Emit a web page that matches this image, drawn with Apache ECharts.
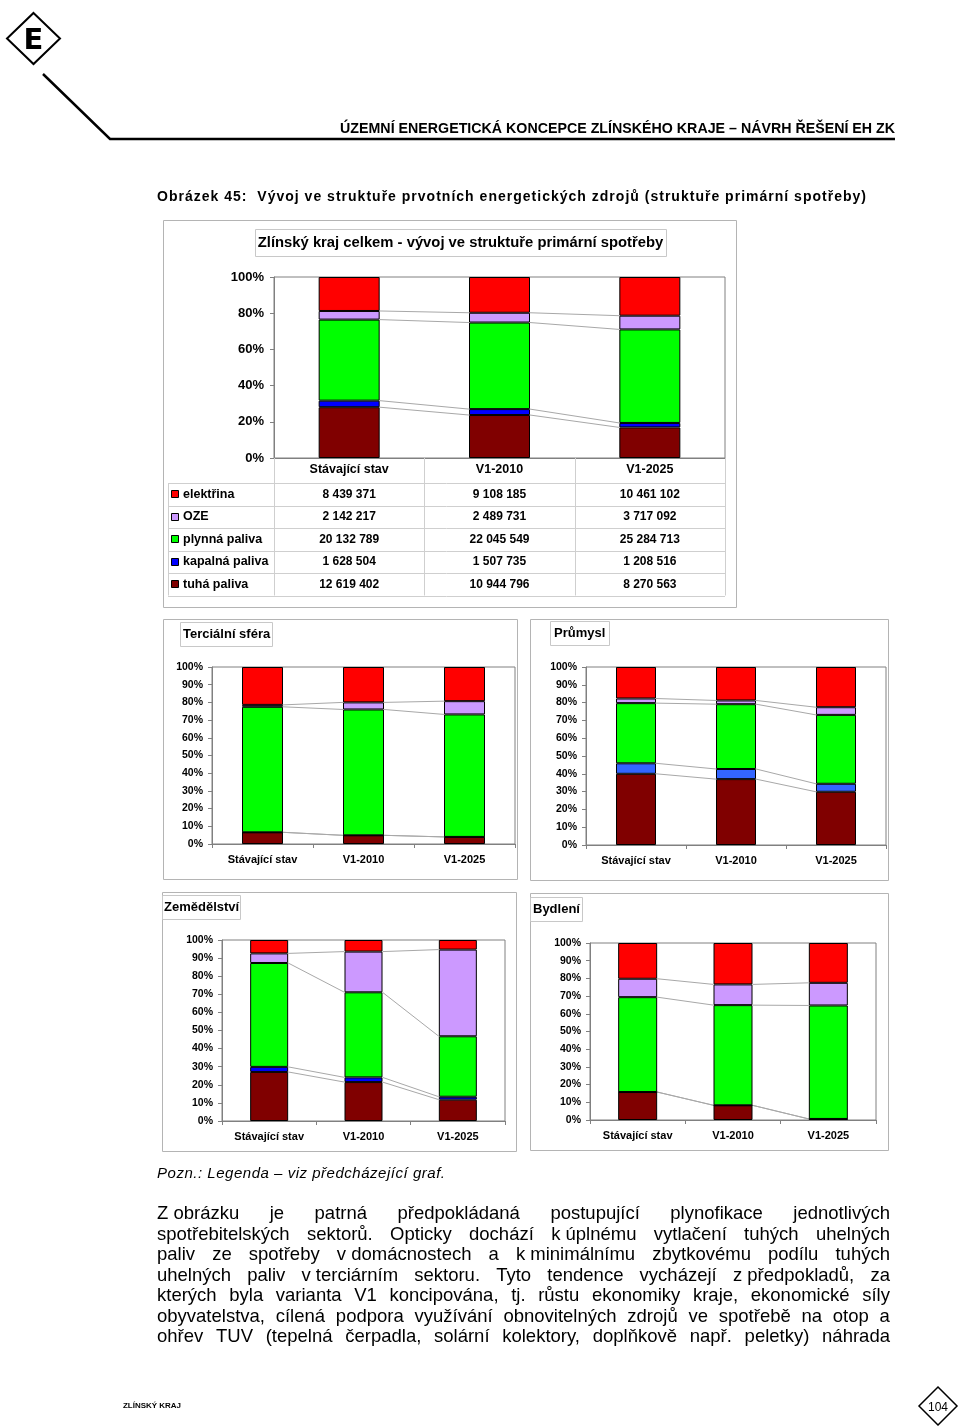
<!DOCTYPE html>
<html><head><meta charset="utf-8">
<script src="https://cdn.jsdelivr.net/npm/echarts@6/dist/echarts.min.js"></script>
<style>
html,body{margin:0;padding:0;background:#fff;}
#page{position:relative;width:960px;height:1426px;overflow:hidden;background:#fff;font-family:"Liberation Sans",Arial,sans-serif;color:#000;}
#chart{position:absolute;left:0;top:0;width:960px;height:1426px;}
.t{position:absolute;white-space:nowrap;color:#000;}
.pl{position:absolute;left:157px;width:733px;height:20px;line-height:20px;display:flex;justify-content:space-between;white-space:nowrap;}
</style></head><body>
<div id="page">
<div id="chart"></div>
<svg width="960" height="1426" style="position:absolute;left:0;top:0;pointer-events:none">
 <polygon points="33.5,13 60,38.5 33.5,64 7,38.5" fill="#fff" stroke="#000" stroke-width="2"/>
 <text x="33.5" y="49" text-anchor="middle" font-family="DejaVu Sans" font-weight="bold" font-size="29">E</text>
 <polyline points="43,74 110,139 895,139" fill="none" stroke="#000" stroke-width="2.5"/>
 <polygon points="938,1387 957,1406 938,1425 919,1406" fill="#fff" stroke="#000" stroke-width="1.5"/>
 <text x="938" y="1411" text-anchor="middle" font-size="12" font-family="Liberation Sans Narrow, Liberation Sans">104</text>
</svg>
<span id="hdr" class="t" style="top:119px;font-family:'Liberation Sans Narrow','Liberation Sans',sans-serif;font-weight:bold;font-size:15px;line-height:18px;">ÚZEMNÍ ENERGETICKÁ KONCEPCE ZLÍNSKÉHO KRAJE – NÁVRH ŘEŠENÍ EH ZK</span>
<span id="cap" class="t" style="left:157px;top:187px;font-weight:bold;font-size:14px;line-height:18px;">Obrázek 45:&nbsp; Vývoj ve struktuře prvotních energetických zdrojů (struktuře primární spotřeby)</span>
<span id="pozn" class="t" style="left:157px;top:1164px;font-style:italic;font-size:15px;line-height:18px;">Pozn.: Legenda – viz předcházející graf.</span>
<div id="para"></div>
<span id="foot" class="t" style="left:123px;top:1401px;font-family:'Liberation Sans Narrow','Liberation Sans',sans-serif;font-weight:bold;font-size:8px;line-height:10px;">ZLÍNSKÝ KRAJ</span>
</div>
<script>
// ---------- DATA ----------
const categories = ['Stávající stav', 'V1-2010', 'V1-2025'];
const tableRowNames = ['elektřina', 'OZE', 'plynná paliva', 'kapalná paliva', 'tuhá paliva'];
// Zlínský kraj celkem (absolute values from table)
const celkemElektrina = [8439371, 9108185, 10461102];
const celkemOZE = [2142217, 2489731, 3717092];
const celkemPlynna = [20132789, 22045549, 25284713];
const celkemKapalna = [1628504, 1507735, 1208516];
const celkemTuha = [12619402, 10944796, 8270563];
// Terciální sféra (shares, %)
const tercTuha = [6.6, 4.9, 4.0];
const tercKapalna = [0, 0, 0];
const tercPlynna = [70.9, 71.1, 69.2];
const tercOZE = [1.1, 4.0, 7.5];
const tercElektrina = [21.4, 20.0, 19.3];
// Průmysl (shares, %)
const prumTuha = [40.0, 37.0, 29.9];
const prumKapalna = [5.9, 5.7, 4.5];
const prumPlynna = [33.8, 36.4, 38.7];
const prumOZE = [2.6, 2.1, 4.3];
const prumElektrina = [17.7, 18.8, 22.6];
// Zemědělství (shares, %)
const zemTuha = [27.1, 21.5, 11.8];
const zemKapalna = [2.8, 2.6, 1.6];
const zemPlynna = [57.4, 47.0, 33.4];
const zemOZE = [5.3, 22.5, 47.9];
const zemElektrina = [7.4, 6.4, 5.3];
// Bydlení (shares, %)
const bydTuha = [15.8, 8.3, 0.6];
const bydKapalna = [0, 0, 0];
const bydPlynna = [53.6, 56.6, 64.1];
const bydOZE = [10.4, 11.7, 12.8];
const bydElektrina = [20.2, 23.4, 22.5];

const paraLines = [
 "Z\u00A0obrázku je patrná předpokládaná postupující plynofikace jednotlivých",
 "spotřebitelských sektorů. Opticky dochází k\u00A0úplnému vytlačení tuhých uhelných",
 "paliv ze spotřeby v\u00A0domácnostech a k\u00A0minimálnímu zbytkovému podílu tuhých",
 "uhelných paliv v\u00A0terciárním sektoru. Tyto tendence vycházejí z\u00A0předpokladů, za",
 "kterých byla varianta V1 koncipována, tj. růstu ekonomiky kraje, ekonomické síly",
 "obyvatelstva, cílená podpora využívání obnovitelných zdrojů ve spotřebě na otop a",
 "ohřev TUV (tepelná čerpadla, solární kolektory, doplňkově např. peletky) náhrada"
];

// ---------- derived ----------
const totals = categories.map((_, i) => celkemElektrina[i] + celkemOZE[i] + celkemPlynna[i] + celkemKapalna[i] + celkemTuha[i]);
const pct = a => a.map((v, i) => v / totals[i] * 100);
const seriesNames = ['tuhá paliva', 'kapalná paliva', 'plynná paliva', 'OZE', 'elektřina'];
const baseColors = ['#800000', '#0000FF', '#00FF00', '#CC99FF', '#FF0000'];

const charts = [
 {segs: [pct(celkemTuha), pct(celkemKapalna), pct(celkemPlynna), pct(celkemOZE), pct(celkemElektrina)], blue: '#0000FF', barW: 61,
  grid: {left: 274, top: 277, width: 451, height: 181}, interval: 20, main: true},
 {segs: [tercTuha, tercKapalna, tercPlynna, tercOZE, tercElektrina], blue: '#0000FF', barW: 41,
  grid: {left: 212, top: 667, width: 303, height: 177}, interval: 10},
 {segs: [prumTuha, prumKapalna, prumPlynna, prumOZE, prumElektrina], blue: '#3366FF', barW: 40,
  grid: {left: 586, top: 667, width: 300, height: 178}, interval: 10},
 {segs: [zemTuha, zemKapalna, zemPlynna, zemOZE, zemElektrina], blue: '#0000FF', barW: 38,
  grid: {left: 222, top: 940, width: 283, height: 181}, interval: 10},
 {segs: [bydTuha, bydKapalna, bydPlynna, bydOZE, bydElektrina], blue: '#0000FF', barW: 39,
  grid: {left: 590, top: 943, width: 286, height: 177}, interval: 10}
];

const grids = [], xAxes = [], yAxes = [], series = [];
charts.forEach((c, gi) => {
  grids.push(Object.assign({show: true, borderColor: '#808080', borderWidth: 1, backgroundColor: '#fff', containLabel: false}, c.grid));
  xAxes.push({type: 'category', gridIndex: gi, data: categories,
    axisLine: {lineStyle: {color: '#808080'}},
    axisTick: {show: !c.main, length: 4, alignWithLabel: false, lineStyle: {color: '#808080'}},
    axisLabel: {color: '#000', fontWeight: 'bold', fontSize: c.main ? 12.5 : 11, margin: c.main ? 5 : 10, interval: 0, fontFamily: 'Liberation Sans'}
  });
  yAxes.push({type: 'value', gridIndex: gi, min: 0, max: 100, interval: c.interval,
    axisLine: {show: true, lineStyle: {color: '#808080'}},
    axisTick: {show: true, length: 4, lineStyle: {color: '#808080'}},
    splitLine: {show: false},
    axisLabel: {color: '#000', fontWeight: 'bold', fontSize: c.main ? 13 : 10.5, margin: c.main ? 10 : 9, formatter: '{value}%', fontFamily: 'Liberation Sans'}
  });
  c.segs.forEach((s, k) => {
    series.push({type: 'bar', name: seriesNames[k], xAxisIndex: gi, yAxisIndex: gi, stack: 'g' + gi,
      barWidth: c.barW, data: s, silent: true, z: 3,
      itemStyle: {color: k === 1 ? c.blue : baseColors[k], borderColor: '#000', borderWidth: 1}});
  });
  // series lines (connectors)
  const tops = []; let run = categories.map(() => 0);
  c.segs.forEach(s => { run = run.map((v, i) => v + s[i]); tops.push(run.slice()); });
  const cdata = [];
  for (let i = 0; i < categories.length - 1; i++) for (let k = 0; k < c.segs.length - 1; k++) cdata.push([i, k]);
  const hw = c.barW / 2;
  series.push({type: 'custom', xAxisIndex: gi, yAxisIndex: gi, silent: true, z: 2, data: cdata,
    encode: {x: 0, y: 1},
    renderItem: (params, api) => {
      const i = api.value(0), k = api.value(1);
      const p1 = api.coord([i, tops[k][i]]), p2 = api.coord([i + 1, tops[k][i + 1]]);
      return {type: 'line', shape: {x1: p1[0] + hw, y1: p1[1], x2: p2[0] - hw, y2: p2[1]},
        style: {stroke: '#a8a8a8', lineWidth: 1}};
    }});
});

const chart = echarts.init(document.getElementById('chart'));
chart.setOption({animation: false, backgroundColor: '#fff', grid: grids, xAxis: xAxes, yAxis: yAxes, series: series});

// ---------- graphics: boxes, titles, data table ----------
const G = [];
const box = (x, y, w, h, col) => G.push({type: 'rect', z: 0, shape: {x: x + 0.5, y: y + 0.5, width: w, height: h}, style: {fill: 'none', stroke: col, lineWidth: 1}, silent: true});
const txt = (x, y, s, opt) => G.push({type: 'text', z: 10, x: x, y: y, silent: true,
  style: Object.assign({text: s, fill: '#000', font: 'bold 13px "Liberation Sans"', textAlign: 'left', textVerticalAlign: 'middle'}, opt || {})});
const hline = (x1, x2, y, col) => G.push({type: 'line', z: 1, silent: true, shape: {x1: x1, y1: y + 0.5, x2: x2, y2: y + 0.5}, style: {stroke: col, lineWidth: 1}});
const vline = (x, y1, y2, col) => G.push({type: 'line', z: 1, silent: true, shape: {x1: x + 0.5, y1: y1, x2: x + 0.5, y2: y2}, style: {stroke: col, lineWidth: 1}});

// outer boxes
box(163, 220, 573, 387, '#b4b4b4');
box(163, 619, 354, 260, '#b4b4b4');
box(530, 619, 358, 261, '#b4b4b4');
box(162, 892, 354, 259, '#b4b4b4');
box(530, 893, 358, 257, '#b4b4b4');
// title boxes
box(255, 229, 411, 27, '#c8c8c8');
txt(460.5, 243, 'Zlínský kraj celkem - vývoj ve struktuře primární spotřeby', {textAlign: 'center', font: 'bold 14.8px "Liberation Sans"'});
box(180, 622, 92, 24, '#c8c8c8');
txt(183, 634, 'Terciální sféra');
box(550, 621, 59, 24, '#c8c8c8');
txt(554, 633, 'Průmysl');
box(162, 895, 78, 24, '#c8c8c8');
txt(164, 907, 'Zemědělství');
box(530, 897, 52, 24, '#c8c8c8');
txt(533, 909, 'Bydlení');

// data table under main chart
const centers = categories.map((_, i) => chart.convertToPixel({gridIndex: 0}, [i, 0])[0]);
const step = centers[1] - centers[0];
const colEdges = [centers[0] - step / 2].concat(centers.map(cx => cx + step / 2));
const axisY = chart.convertToPixel({gridIndex: 0}, [0, 0])[1];
const rowTop = 483, rowH = 22.5, nRows = tableRowNames.length, tableLeft = 168;
const tableBottom = rowTop + rowH * nRows;
const lc = '#cfcfcf';
for (let r = 0; r <= nRows; r++) hline(tableLeft, colEdges[colEdges.length - 1], Math.round(rowTop + r * rowH), lc);
colEdges.forEach(x => vline(Math.round(x), axisY, tableBottom, lc));
vline(tableLeft, rowTop, tableBottom, lc);
const rowData = [celkemElektrina, celkemOZE, celkemPlynna, celkemKapalna, celkemTuha];
const rowColors = ['#FF0000', '#CC99FF', '#00FF00', '#0000FF', '#800000'];
const fmt = n => String(n).replace(/\B(?=(\d{3})+(?!\d))/g, ' ');
tableRowNames.forEach((nm, r) => {
  const cy = rowTop + r * rowH + rowH / 2;
  G.push({type: 'rect', z: 10, silent: true, shape: {x: 171.5, y: Math.round(cy - 4) + 0.5, width: 7, height: 7}, style: {fill: rowColors[r], stroke: '#000', lineWidth: 1}});
  txt(183, cy, nm, {font: 'bold 12.5px "Liberation Sans"'});
  rowData[r].forEach((v, i) => txt(centers[i], cy, fmt(v), {textAlign: 'center', font: 'bold 12px "Liberation Sans"'}));
});
chart.setOption({graphic: {elements: G}});

// ---------- HTML text fitting ----------
function layoutText() {
  const hdr = document.getElementById('hdr');
  let w = hdr.getBoundingClientRect().width;
  hdr.style.left = (895 - w) + 'px';
  const sx = 555 / w;
  hdr.style.transformOrigin = 'right center';
  hdr.style.transform = 'scaleX(' + sx + ')';

  const cap = document.getElementById('cap');
  w = cap.getBoundingClientRect().width;
  cap.style.letterSpacing = ((709 - w) / (cap.textContent.length - 1)) + 'px';

  const pozn = document.getElementById('pozn');
  w = pozn.getBoundingClientRect().width;
  pozn.style.letterSpacing = ((288 - w) / (pozn.textContent.length - 1)) + 'px';

  const foot = document.getElementById('foot');
  w = foot.getBoundingClientRect().width;
  foot.style.transformOrigin = 'left center';
  foot.style.transform = 'scaleX(' + (58 / w) + ')';

  // paragraph: measure natural widths
  const para = document.getElementById('para');
  const probe = document.createElement('span');
  probe.className = 't';
  probe.style.fontSize = '18px';
  para.appendChild(probe);
  let maxW = 0;
  paraLines.forEach(l => { probe.textContent = l; maxW = Math.max(maxW, probe.getBoundingClientRect().width); });
  para.removeChild(probe);
  const fs = Math.min(18.5, 18 * 731 / maxW);
  paraLines.forEach((l, k) => {
    const d = document.createElement('div');
    d.className = 'pl';
    d.style.fontSize = fs + 'px';
    d.style.top = (1213 + k * 20.5 - 10) + 'px';
    l.split(' ').forEach(word => { const s = document.createElement('span'); s.textContent = word; d.appendChild(s); });
    para.appendChild(d);
  });
}
layoutText();
</script>
</body></html>
